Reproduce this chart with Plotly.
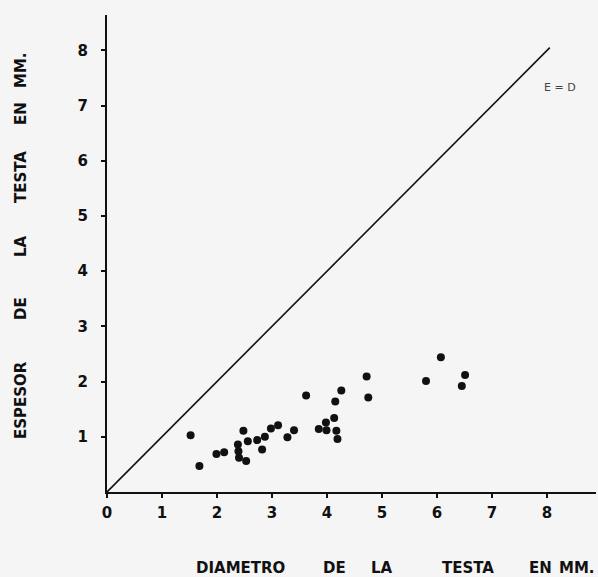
import plotly.graph_objects as go

# Diameter of testa (mm) and thickness of testa (mm)
diametro = [1.52, 1.68, 1.99, 2.13, 2.38, 2.39, 2.40, 2.48, 2.53, 2.56, 2.73, 2.82,
            2.87, 2.98, 3.11, 3.28, 3.40, 3.62, 3.85, 3.98, 3.99, 4.13, 4.15, 4.17,
            4.19, 4.26, 4.72, 4.75, 5.80, 6.07, 6.45, 6.51]
espesor = [1.03, 0.47, 0.69, 0.72, 0.86, 0.74, 0.62, 1.11, 0.56, 0.92, 0.94, 0.77,
           1.00, 1.15, 1.21, 0.99, 1.12, 1.75, 1.14, 1.26, 1.12, 1.34, 1.64, 1.11,
           0.96, 1.84, 2.09, 1.71, 2.01, 2.44, 1.92, 2.12]
linea_ed = [0, 8.05]
x_ticks = [0, 1, 2, 3, 4, 5, 6, 7, 8]
y_ticks = [1, 2, 3, 4, 5, 6, 7, 8]
x_title_words = ["DIAMETRO", "DE", "LA", "TESTA", "EN", "MM."]
y_title_words = ["ESPESOR", "DE", "LA", "TESTA", "EN", "MM."]

# word centre positions (pixels in the 598x577 page)
x_word_px = [240, 334, 382, 468, 540, 577]
y_word_px = [400, 309, 246, 177, 114, 70]

W, H = 598, 577
ML, MR, MT, MB = 107, 2, 15, 85
PW, PH = W - ML - MR, H - MT - MB

bg = "#f5f5f5"
ink = "#111111"
font_fam = "DejaVu Sans"

fig = go.Figure()
fig.add_trace(go.Scatter(x=linea_ed, y=linea_ed, mode="lines",
                         line=dict(color=ink, width=1.6), hoverinfo="skip",
                         showlegend=False))
fig.add_trace(go.Scatter(x=diametro, y=espesor, mode="markers",
                         marker=dict(color=ink, size=8), showlegend=False))

fig.add_annotation(x=8.24, y=7.32, text="E = D", showarrow=False,
                   font=dict(family=font_fam, size=11, color="#444444"))

title_font = dict(family=font_fam, size=15, color=ink, weight="bold")
for w, px in zip(x_title_words, x_word_px):
    fig.add_annotation(xref="paper", yref="paper",
                       x=(px - ML) / PW, y=(H - MB - 568) / PH,
                       text=w, showarrow=False, font=title_font,
                       xanchor="center", yanchor="middle")
for w, py in zip(y_title_words, y_word_px):
    fig.add_annotation(xref="paper", yref="paper",
                       x=(21 - ML) / PW, y=(H - MB - py) / PH,
                       text=w, showarrow=False, font=title_font, textangle=-90,
                       xanchor="center", yanchor="middle")

tick_font = dict(family=font_fam, size=15, color=ink, weight="bold")
fig.update_layout(
    width=W, height=H,
    margin=dict(l=ML, r=MR, t=MT, b=MB, autoexpand=False),
    paper_bgcolor=bg, plot_bgcolor=bg,
    font=dict(family=font_fam, color=ink),
    xaxis=dict(range=[0, 8.89], tickvals=x_ticks, ticktext=[str(v) for v in x_ticks],
               showgrid=False, zeroline=False, showline=True, linecolor=ink, linewidth=2,
               ticks="outside", ticklen=4, tickcolor=ink, tickwidth=1.5,
               ticklabelstandoff=2, automargin=False, tickfont=tick_font),
    yaxis=dict(range=[0, 8.64], tickvals=y_ticks, ticktext=[str(v) for v in y_ticks],
               showgrid=False, zeroline=False, showline=True, linecolor=ink, linewidth=2,
               ticks="outside", ticklen=4, tickcolor=ink, tickwidth=1.5,
               ticklabelstandoff=10, automargin=False, tickfont=tick_font),
)

fig.write_html(
    "out.html",
    config={"displayModeBar": False},
    post_script="document.body.style.margin='0';document.body.style.overflow='hidden';"
                "document.body.style.background='" + bg + "';",
)
